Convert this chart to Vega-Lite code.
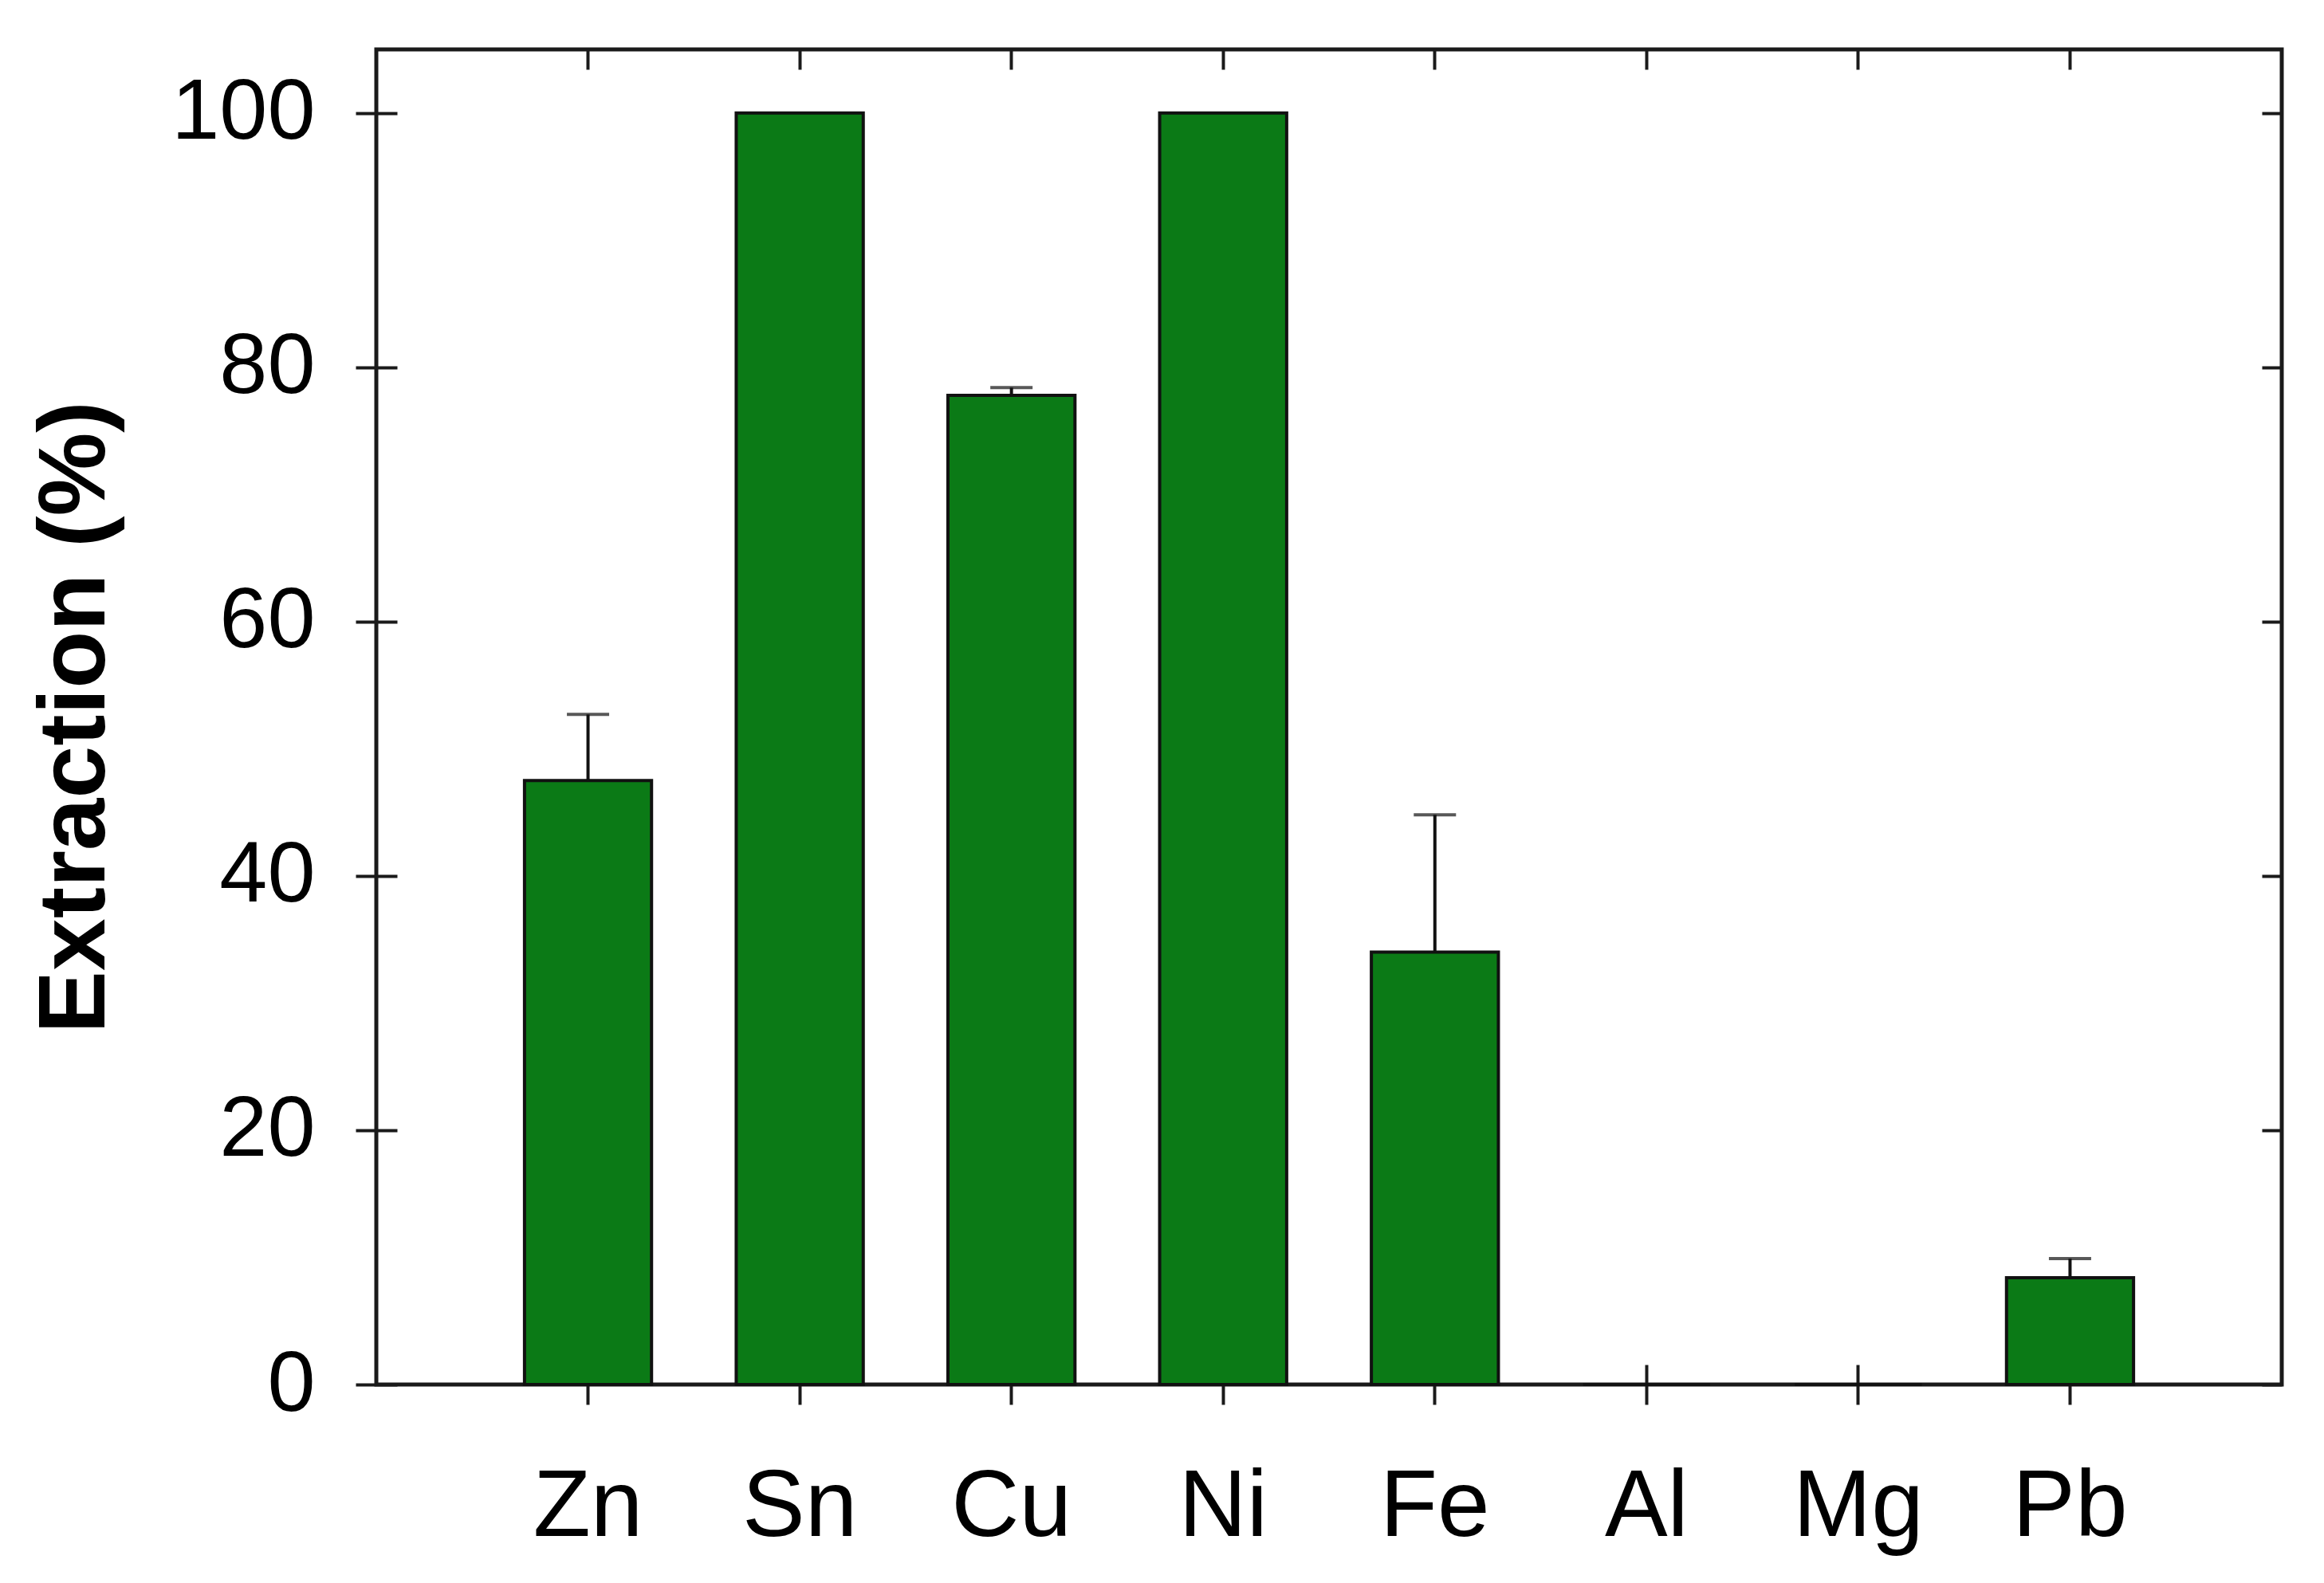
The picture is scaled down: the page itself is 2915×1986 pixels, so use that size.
{
  "$schema": "https://vega.github.io/schema/vega-lite/v6.json",
  "width": 2390,
  "height": 1675,
  "autosize": {"type": "none"},
  "padding": {"left": 472, "top": 62, "right": 53, "bottom": 249},
  "background": "white",
  "config": {
    "font": "Liberation Sans",
    "view": {"stroke": "#1a1a1a", "strokeWidth": 5},
    "axis": {
      "domain": false,
      "grid": false,
      "tickColor": "#1a1a1a",
      "tickWidth": 4,
      "labelColor": "black",
      "titleColor": "black",
      "labelFont": "Liberation Sans",
      "titleFont": "Liberation Sans",
      "labelLimit": 600
    }
  },
  "data": {
    "values": [
      {"element": "Zn", "extraction": 47.5, "upper": 52.7},
      {"element": "Sn", "extraction": 100, "upper": null},
      {"element": "Cu", "extraction": 77.8, "upper": 78.4},
      {"element": "Ni", "extraction": 100, "upper": null},
      {"element": "Fe", "extraction": 34.0, "upper": 44.8},
      {"element": "Al", "extraction": 0, "upper": null},
      {"element": "Mg", "extraction": 0, "upper": null},
      {"element": "Pb", "extraction": 8.4, "upper": 9.9}
    ]
  },
  "resolve": {"axis": {"x": "independent", "y": "independent"}},
  "layer": [
    {
      "mark": {"type": "bar", "fill": "#0b7a16", "stroke": "#111111", "strokeWidth": 4},
      "encoding": {
        "x": {
          "field": "element",
          "type": "nominal",
          "scale": {
            "domain": ["Zn", "Sn", "Cu", "Ni", "Fe", "Al", "Mg", "Pb"],
            "paddingInner": 0.4,
            "paddingOuter": 0.7
          },
          "axis": {
            "orient": "bottom",
            "offset": -25,
            "title": null,
            "labelAngle": 0,
            "labelFontSize": 118,
            "labelPadding": 71,
            "tickSize": 50
          }
        },
        "y": {
          "field": "extraction",
          "type": "quantitative",
          "scale": {"domain": [0, 105], "nice": false},
          "axis": {
            "orient": "left",
            "offset": -26,
            "values": [0, 20, 40, 60, 80, 100],
            "title": "Extraction (%)",
            "titleFontSize": 118,
            "titleFontWeight": "bold",
            "titlePadding": 143,
            "labelFontSize": 108,
            "labelPadding": 51,
            "tickSize": 52
          }
        }
      }
    },
    {
      "transform": [{"filter": "datum.upper != null"}],
      "mark": {"type": "rule", "strokeWidth": 4, "color": "#111111"},
      "encoding": {
        "x": {"field": "element", "type": "nominal", "axis": null},
        "y": {"field": "extraction", "type": "quantitative", "axis": null},
        "y2": {"field": "upper"}
      }
    },
    {
      "transform": [{"filter": "datum.upper != null"}],
      "mark": {"type": "tick", "size": 53, "thickness": 4, "color": "#111111"},
      "encoding": {
        "x": {
          "field": "element",
          "type": "nominal",
          "axis": {"orient": "top", "title": null, "labels": false, "tickSize": -25}
        },
        "y": {
          "field": "upper",
          "type": "quantitative",
          "axis": {"orient": "right", "title": null, "labels": false, "tickSize": -25, "values": [0, 20, 40, 60, 80, 100]}
        }
      }
    }
  ]
}
